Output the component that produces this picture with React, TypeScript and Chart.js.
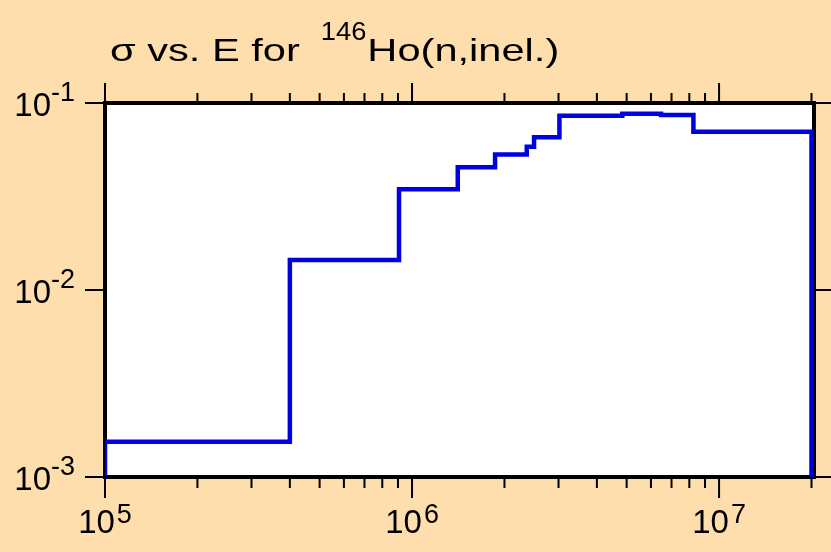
import React, { useEffect, useRef } from "react";
import { Chart, registerables } from "chart.js";

Chart.register(...registerables);

// ---- data ----
const stepEnergies = [1.0e5, 4.0e5, 9.07e5, 1.409e6, 1.864e6, 2.364e6, 2.497e6, 3.02e6, 4.84e6, 6.47e6, 8.25e6];
const stepCrossSections = [1.545e-3, 1.445e-2, 3.455e-2, 4.53e-2, 5.31e-2, 5.84e-2, 6.55e-2, 8.56e-2, 8.77e-2, 8.63e-2, 7.02e-2];
const endEnergy = 2.0e7;
const floorCrossSection = 1.0e-4;

const xMin = 1e5;
const xMax = 2e7;
const yMin = 1e-3;
const yMax = 1e-1;

const xMajorTicks = [1e5, 1e6, 1e7];
const xMajorExponents = ["5", "6", "7"];
const xMinorTicks = [2e5, 3e5, 4e5, 5e5, 6e5, 7e5, 8e5, 9e5, 2e6, 3e6, 4e6, 5e6, 6e6, 7e6, 8e6, 9e6, 2e7];
const yMajorTicks = [1e-1, 1e-2, 1e-3];
const yMajorExponents = ["-1", "-2", "-3"];

const titleMain = "σ vs. E for";
const titleSup = "146";
const titleRest = "Ho(n,inel.)";

const BG = "#FFDEAD";
const LINE = "#0000E0";
const FONT = "'Liberation Sans', Arial, Helvetica, sans-serif";

function drawStretched(ctx: CanvasRenderingContext2D, text: string, x: number, y: number, sx: number) {
  ctx.save();
  ctx.translate(x, y);
  ctx.scale(sx, 1);
  ctx.fillText(text, 0, 0);
  ctx.restore();
  return ctx.measureText(text).width * sx;
}

const decorPlugin = {
  id: "decor",
  beforeDraw(chart: any) {
    const { ctx, width, height, chartArea } = chart;
    ctx.save();
    ctx.fillStyle = BG;
    ctx.fillRect(0, 0, width, height);
    ctx.fillStyle = "#FFFFFF";
    ctx.fillRect(chartArea.left, chartArea.top, chartArea.right - chartArea.left + 2, chartArea.bottom - chartArea.top);
    ctx.restore();
  },
  beforeDatasetsDraw(chart: any) {
    const { ctx, chartArea, scales } = chart;
    const xs = scales.x;
    const ys = scales.y;
    const L = chartArea.left;
    const R = chartArea.right + 2.5;
    const T = chartArea.top;
    const B = chartArea.bottom;
    ctx.save();
    ctx.strokeStyle = "#000";
    ctx.lineWidth = 2;
    ctx.lineCap = "butt";
    ctx.beginPath();
    xMajorTicks.forEach((v) => {
      const px = xs.getPixelForValue(v);
      ctx.moveTo(px, B);
      ctx.lineTo(px, B + 21);
      ctx.moveTo(px, T);
      ctx.lineTo(px, T - 20);
    });
    xMinorTicks.forEach((v) => {
      const px = xs.getPixelForValue(v);
      ctx.moveTo(px, B);
      ctx.lineTo(px, B + 11);
      ctx.moveTo(px, T);
      ctx.lineTo(px, T - 10);
    });
    yMajorTicks.forEach((v) => {
      const py = ys.getPixelForValue(v);
      ctx.moveTo(L, py);
      ctx.lineTo(L - 20, py);
      ctx.moveTo(R, py);
      ctx.lineTo(R + 20, py);
    });
    ctx.stroke();
    ctx.lineWidth = 4;
    ctx.lineJoin = "miter";
    ctx.strokeRect(L, T, R - L, B - T);
    ctx.restore();
  },
  afterDraw(chart: any) {
    const { ctx, chartArea, scales } = chart;
    const xs = scales.x;
    const ys = scales.y;
    ctx.save();
    ctx.fillStyle = "#000";
    ctx.textBaseline = "alphabetic";
    ctx.textAlign = "left";
    const big = `33px ${FONT}`;
    const small = `27px ${FONT}`;
    xMajorTicks.forEach((v, i) => {
      const px = xs.getPixelForValue(v);
      ctx.font = big;
      const w1 = ctx.measureText("10").width;
      ctx.font = small;
      const w2 = ctx.measureText(xMajorExponents[i]).width;
      const start = px - (w1 + 2 + w2) / 2;
      ctx.font = big;
      ctx.fillText("10", start, chartArea.bottom + 56);
      ctx.font = small;
      ctx.fillText(xMajorExponents[i], start + w1 + 2, chartArea.bottom + 46);
    });
    yMajorTicks.forEach((v, i) => {
      const py = ys.getPixelForValue(v);
      ctx.font = big;
      const w1 = ctx.measureText("10").width;
      ctx.font = small;
      const w2 = ctx.measureText(yMajorExponents[i]).width;
      const right = chartArea.left - 30;
      const start = right - w1 - w2;
      ctx.font = big;
      ctx.fillText("10", start, py + 13);
      ctx.font = small;
      ctx.fillText(yMajorExponents[i], start + w1, py - 2);
    });
    // title (horizontally widened like the reference lettering)
    const base = 61;
    const sx = 1.3;
    let tx = 110;
    ctx.font = `32px ${FONT}`;
    tx += drawStretched(ctx, titleMain, tx, base, sx);
    tx += 21;
    ctx.font = `26px ${FONT}`;
    tx += drawStretched(ctx, titleSup, tx, base - 21, 1.05);
    tx += 1;
    ctx.font = `32px ${FONT}`;
    drawStretched(ctx, titleRest, tx, base, sx);
    ctx.restore();
  },
};

export default function App() {
  const ref = useRef<HTMLCanvasElement | null>(null);
  useEffect(() => {
    if (!ref.current) return;
    const pts: { x: number; y: number }[] = [{ x: stepEnergies[0], y: floorCrossSection }];
    stepEnergies.forEach((e, i) => pts.push({ x: e, y: stepCrossSections[i] }));
    pts.push({ x: endEnergy, y: stepCrossSections[stepCrossSections.length - 1] });
    pts.push({ x: endEnergy, y: floorCrossSection });

    const chart = new Chart(ref.current, {
      type: "line",
      data: {
        datasets: [
          {
            data: pts,
            borderColor: LINE,
            borderWidth: 4.5,
            pointRadius: 0,
            stepped: "before",
            fill: false,
            borderJoinStyle: "miter",
            borderCapStyle: "butt",
            clip: { left: 0, right: 3, top: 0, bottom: 0 },
          } as any,
        ],
      },
      options: {
        responsive: false,
        maintainAspectRatio: false,
        animation: false,
        devicePixelRatio: 1,
        layout: { padding: { left: 105, right: 19.5, top: 103, bottom: 75 } },
        plugins: { legend: { display: false }, tooltip: { enabled: false }, title: { display: false } },
        scales: {
          x: { type: "logarithmic", min: xMin, max: xMax, display: false },
          y: { type: "logarithmic", min: yMin, max: yMax, display: false },
        },
      },
      plugins: [decorPlugin],
    });
    return () => chart.destroy();
  }, []);
  return (
    <div style={{ position: "absolute", left: 0, top: 0, width: 831, height: 552 }}>
      <canvas ref={ref} width={831} height={552} style={{ display: "block" }} />
    </div>
  );
}
